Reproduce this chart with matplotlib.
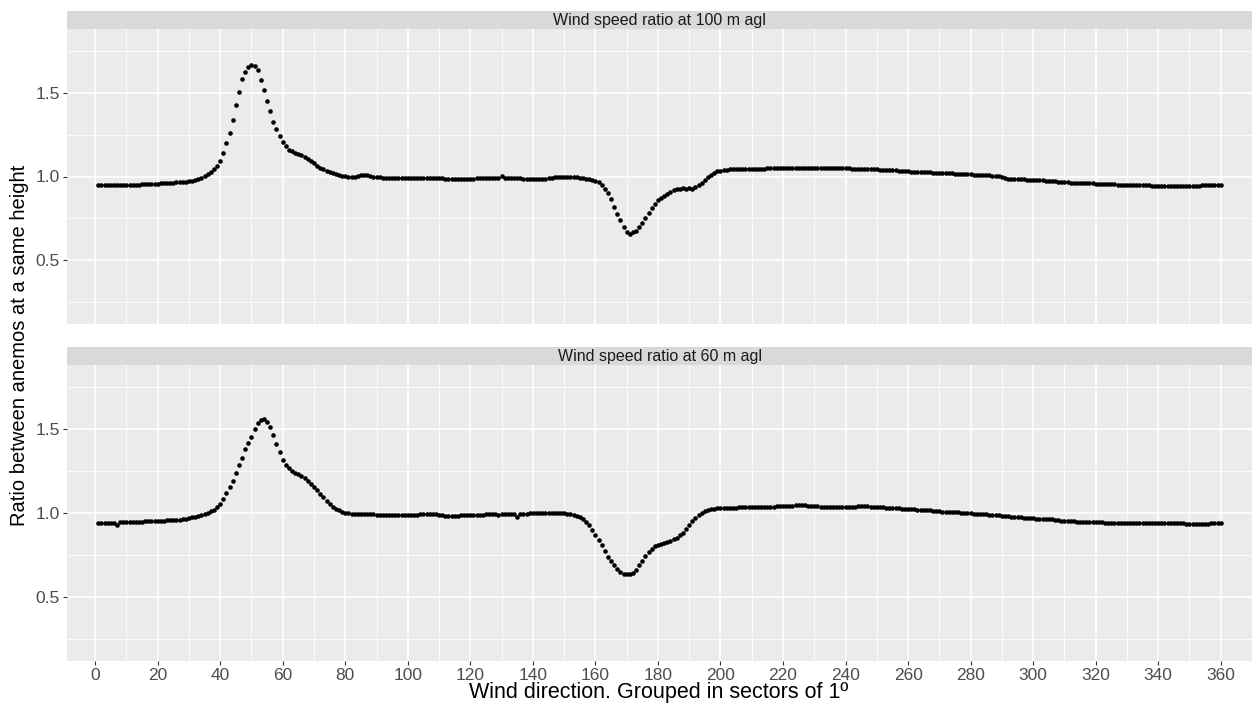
import numpy as np
import matplotlib
matplotlib.use("Agg")
import matplotlib.pyplot as plt

plt.rcParams['font.family'] = ['Liberation Sans', 'DejaVu Sans']

# wind direction sectors (1 degree each)
direction = np.arange(1, 361)

# wind speed ratio at 100 m agl, sectors 1..360
ratio_100 = [
    0.948, 0.948, 0.948, 0.948, 0.948, 0.949, 0.949, 0.949, 0.950, 0.950,
    0.951, 0.951, 0.952, 0.952, 0.953, 0.954, 0.955, 0.956, 0.957, 0.958,
    0.962, 0.963, 0.963, 0.964, 0.964, 0.965, 0.966, 0.967, 0.969, 0.972,
    0.976, 0.979, 0.985, 0.993, 1.002, 1.014, 1.028, 1.046, 1.065, 1.091,
    1.139, 1.198, 1.262, 1.339, 1.429, 1.504, 1.579, 1.625, 1.651, 1.665,
    1.661, 1.637, 1.575, 1.518, 1.453, 1.388, 1.326, 1.283, 1.240, 1.208,
    1.180, 1.161, 1.151, 1.143, 1.135, 1.127, 1.117, 1.107, 1.095, 1.081,
    1.064, 1.052, 1.042, 1.032, 1.024, 1.018, 1.012, 1.008, 1.004, 1.002,
    1.000, 0.999, 1.000, 1.004, 1.008, 1.010, 1.008, 1.004, 1.000, 0.998,
    0.996, 0.994, 0.992, 0.991, 0.990, 0.990, 0.990, 0.991, 0.991, 0.991,
    0.992, 0.992, 0.992, 0.992, 0.992, 0.992, 0.993, 0.993, 0.993, 0.993,
    0.990, 0.986, 0.984, 0.983, 0.984, 0.985, 0.986, 0.987, 0.987, 0.988,
    0.988, 0.989, 0.989, 0.990, 0.990, 0.990, 0.990, 0.991, 0.994, 1.002,
    0.992, 0.991, 0.991, 0.990, 0.990, 0.989, 0.988, 0.987, 0.986, 0.986,
    0.985, 0.984, 0.984, 0.986, 0.990, 0.993, 0.996, 0.998, 0.999, 0.999,
    0.998, 0.996, 0.996, 0.996, 0.994, 0.992, 0.988, 0.986, 0.982, 0.976,
    0.968, 0.952, 0.927, 0.901, 0.865, 0.820, 0.774, 0.738, 0.698, 0.669,
    0.659, 0.667, 0.677, 0.696, 0.720, 0.754, 0.782, 0.814, 0.837, 0.857,
    0.873, 0.883, 0.897, 0.909, 0.917, 0.923, 0.927, 0.929, 0.927, 0.929,
    0.925, 0.937, 0.948, 0.962, 0.980, 0.996, 1.010, 1.022, 1.030, 1.034,
    1.038, 1.040, 1.042, 1.043, 1.044, 1.044, 1.045, 1.045, 1.046, 1.046,
    1.046, 1.047, 1.047, 1.047, 1.048, 1.048, 1.048, 1.048, 1.049, 1.049,
    1.049, 1.050, 1.050, 1.050, 1.050, 1.051, 1.051, 1.051, 1.051, 1.051,
    1.052, 1.052, 1.051, 1.051, 1.050, 1.050, 1.050, 1.049, 1.049, 1.048,
    1.048, 1.047, 1.047, 1.046, 1.046, 1.045, 1.044, 1.044, 1.043, 1.042,
    1.041, 1.040, 1.039, 1.038, 1.037, 1.036, 1.034, 1.033, 1.032, 1.030,
    1.029, 1.028, 1.027, 1.027, 1.026, 1.025, 1.024, 1.023, 1.023, 1.022,
    1.021, 1.020, 1.019, 1.018, 1.017, 1.016, 1.015, 1.014, 1.013, 1.012,
    1.011, 1.010, 1.009, 1.008, 1.007, 1.006, 1.005, 1.004, 1.002, 0.998,
    0.992, 0.988, 0.987, 0.986, 0.985, 0.984, 0.983, 0.982, 0.981, 0.980,
    0.979, 0.978, 0.977, 0.976, 0.974, 0.973, 0.971, 0.970, 0.968, 0.966,
    0.965, 0.964, 0.963, 0.962, 0.961, 0.961, 0.960, 0.959, 0.959, 0.958,
    0.957, 0.956, 0.956, 0.955, 0.954, 0.953, 0.952, 0.952, 0.951, 0.950,
    0.949, 0.949, 0.948, 0.948, 0.947, 0.947, 0.947, 0.946, 0.946, 0.946,
    0.946, 0.945, 0.945, 0.945, 0.945, 0.945, 0.945, 0.945, 0.945, 0.945,
    0.946, 0.946, 0.946, 0.947, 0.947, 0.947, 0.948, 0.949, 0.949, 0.950,
]

# wind speed ratio at 60 m agl, sectors 1..360
ratio_60 = [
    0.937, 0.938, 0.938, 0.939, 0.939, 0.938, 0.925, 0.944, 0.945, 0.945,
    0.945, 0.946, 0.946, 0.947, 0.947, 0.948, 0.948, 0.949, 0.950, 0.951,
    0.952, 0.953, 0.954, 0.955, 0.956, 0.957, 0.958, 0.960, 0.962, 0.966,
    0.972, 0.976, 0.980, 0.986, 0.992, 0.998, 1.008, 1.018, 1.034, 1.052,
    1.081, 1.117, 1.151, 1.190, 1.236, 1.282, 1.327, 1.377, 1.415, 1.452,
    1.496, 1.532, 1.552, 1.556, 1.542, 1.510, 1.464, 1.411, 1.360, 1.314,
    1.284, 1.264, 1.248, 1.238, 1.228, 1.217, 1.205, 1.189, 1.171, 1.151,
    1.133, 1.113, 1.095, 1.070, 1.050, 1.036, 1.024, 1.014, 1.006, 1.000,
    0.996, 0.994, 0.993, 0.993, 0.992, 0.992, 0.992, 0.991, 0.990, 0.988,
    0.986, 0.985, 0.985, 0.985, 0.985, 0.985, 0.986, 0.986, 0.986, 0.986,
    0.987, 0.987, 0.988, 0.990, 0.992, 0.994, 0.994, 0.993, 0.990, 0.987,
    0.984, 0.981, 0.980, 0.981, 0.982, 0.983, 0.984, 0.985, 0.986, 0.986,
    0.986, 0.987, 0.988, 0.989, 0.990, 0.991, 0.992, 0.992, 0.984, 0.994,
    0.994, 0.994, 0.994, 0.993, 0.976, 0.994, 0.995, 0.995, 0.996, 0.996,
    0.997, 0.997, 0.998, 0.998, 0.998, 0.999, 0.999, 1.000, 0.998, 0.996,
    0.992, 0.990, 0.988, 0.982, 0.972, 0.961, 0.945, 0.925, 0.897, 0.869,
    0.836, 0.806, 0.770, 0.738, 0.711, 0.687, 0.665, 0.647, 0.635, 0.633,
    0.637, 0.643, 0.661, 0.687, 0.713, 0.740, 0.768, 0.784, 0.800, 0.808,
    0.815, 0.821, 0.826, 0.832, 0.842, 0.851, 0.865, 0.881, 0.901, 0.925,
    0.949, 0.968, 0.984, 0.998, 1.008, 1.016, 1.020, 1.024, 1.026, 1.028,
    1.030, 1.030, 1.030, 1.031, 1.031, 1.032, 1.032, 1.033, 1.033, 1.034,
    1.034, 1.035, 1.035, 1.036, 1.036, 1.036, 1.037, 1.038, 1.039, 1.040,
    1.041, 1.042, 1.043, 1.044, 1.044, 1.044, 1.044, 1.043, 1.042, 1.040,
    1.038, 1.037, 1.036, 1.036, 1.035, 1.035, 1.035, 1.035, 1.034, 1.034,
    1.035, 1.036, 1.037, 1.038, 1.038, 1.038, 1.038, 1.037, 1.036, 1.035,
    1.034, 1.033, 1.031, 1.030, 1.029, 1.028, 1.026, 1.025, 1.024, 1.022,
    1.021, 1.020, 1.019, 1.018, 1.017, 1.016, 1.014, 1.012, 1.010, 1.008,
    1.007, 1.006, 1.005, 1.004, 1.003, 1.002, 1.001, 1.000, 0.998, 0.996,
    0.995, 0.993, 0.992, 0.991, 0.990, 0.988, 0.987, 0.985, 0.984, 0.982,
    0.980, 0.978, 0.977, 0.975, 0.974, 0.972, 0.970, 0.969, 0.967, 0.966,
    0.965, 0.964, 0.963, 0.962, 0.961, 0.960, 0.959, 0.957, 0.952, 0.951,
    0.950, 0.949, 0.948, 0.947, 0.946, 0.946, 0.945, 0.944, 0.944, 0.943,
    0.942, 0.942, 0.941, 0.941, 0.940, 0.940, 0.940, 0.939, 0.939, 0.939,
    0.938, 0.937, 0.936, 0.937, 0.937, 0.937, 0.937, 0.937, 0.937, 0.937,
    0.937, 0.937, 0.937, 0.937, 0.938, 0.937, 0.936, 0.936, 0.935, 0.935,
    0.935, 0.935, 0.935, 0.935, 0.935, 0.935, 0.936, 0.936, 0.937, 0.937,
]

facets = ["Wind speed ratio at 100 m agl", "Wind speed ratio at 60 m agl"]
series = [ratio_100, ratio_60]

x_major = np.arange(0, 361, 20)
x_minor = np.arange(10, 360, 20)
y_major = [0.5, 1.0, 1.5]
y_minor = [0.25, 0.75, 1.25, 1.75]

W, H = 1252, 704
fig = plt.figure(figsize=(W / 100, H / 100), dpi=100)

# panel boxes in pixels: (left, top, right, bottom), strip height
panels = [(67, 29, 1252, 324), (67, 365, 1252, 660.5)]
strip_h = 18

for i, (l, t, r, b) in enumerate(panels):
    ax = fig.add_axes([l / W, 1 - b / H, (r - l) / W, (b - t) / H])
    ax.set_facecolor('#EBEBEB')
    for s in ax.spines.values():
        s.set_visible(False)
    ax.set_xlim(-9, 370)
    ax.set_ylim(0.12, 1.88)
    for v in x_minor:
        ax.axvline(v, color='white', lw=0.6, zorder=0)
    for v in y_minor:
        ax.axhline(v, color='white', lw=0.6, zorder=0)
    for v in x_major:
        ax.axvline(v, color='white', lw=1.2, zorder=0)
    for v in y_major:
        ax.axhline(v, color='white', lw=1.2, zorder=0)
    ax.plot(direction, series[i], 'o', color='black', markersize=3.3,
            markeredgewidth=0, zorder=3)

    ax.set_yticks(y_major)
    ax.set_yticklabels(['0.5', '1.0', '1.5'])
    ax.set_xticks(x_major)
    ax.tick_params(axis='both', colors='#333333', length=3.2, width=0.8,
                   labelsize=12.5, labelcolor='#4D4D4D', pad=2)
    if i == 0:
        ax.tick_params(axis='x', bottom=False, labelbottom=False)

    # facet strip
    sax = fig.add_axes([l / W, 1 - t / H, (r - l) / W, strip_h / H])
    sax.set_facecolor('#D9D9D9')
    sax.set_xticks([])
    sax.set_yticks([])
    for s in sax.spines.values():
        s.set_visible(False)
    sax.text(0.5, 0.5, facets[i], ha='center', va='center', fontsize=11.5,
             color='#1A1A1A', transform=sax.transAxes)

fig.text(659 / W, 1 - 698 / H, 'Wind direction. Grouped in sectors of 1º',
         ha='center', va='baseline', fontsize=15.5)
fig.text(20 / W, 1 - 345 / H, 'Ratio between anemos at a same height',
         ha='center', va='center', rotation=90, fontsize=14.5)

fig.savefig('out.png', dpi=100)
